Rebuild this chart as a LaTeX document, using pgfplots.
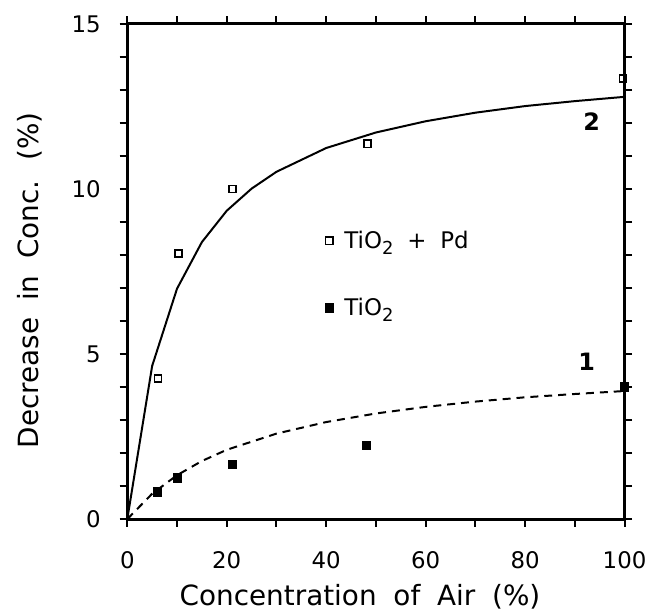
\documentclass[border=0pt]{standalone}
\usepackage{fontspec}
\setmainfont{DejaVu Sans}
\usepackage{pgfplots}
\pgfplotsset{compat=1.18}

\newcommand{\sub}[1]{\raisebox{-3.2pt}{\fontsize{9}{9}\selectfont #1}}

\begin{document}
\begin{tikzpicture}
\begin{axis}[
    width=250pt, height=249pt, scale only axis,
    xmin=0, xmax=100, ymin=0, ymax=15,
    xtick={0,20,...,100}, minor xtick={10,30,...,90},
    ytick={0,5,10,15}, minor ytick={1,2,3,4,6,7,8,9,11,12,13,14},
    tick align=outside,
    major tick length=3.8pt, minor tick length=3.8pt,
    every tick/.style={black, line width=1pt},
    every minor tick/.style={black, line width=1pt},
    axis line style={line width=1.4pt},
    tick label style={font=\fontsize{11.5}{13}\selectfont},
    yticklabel style={xshift=-6pt},
    xticklabel style={yshift=-9pt},
    /pgf/number format/assume math mode=true,
    xlabel={Concentration\hspace{4pt} of\hspace{4pt} Air\hspace{4pt} (\%)},
    ylabel={Decrease\hspace{4pt} in\hspace{4pt} Conc.\hspace{4pt} (\%)},
    label style={font=\fontsize{14}{16}\selectfont},
    xlabel style={at={(axis description cs:0.468,-0.157)}, anchor=center},
    ylabel style={at={(axis description cs:-0.196,0.482)}, anchor=center},
    legend image code/.code={\draw[#1, only marks] plot coordinates {(0pt,0pt)};},
    legend style={at={(axis cs:39.7,8.87)}, anchor=north west, draw=none, fill=none,
        font=\fontsize{11.5}{13}\selectfont, row sep=19.5pt, inner sep=0pt},
    legend cell align=left,
    clip=false,
]
% TiO2 + Pd (open squares)
\addplot[only marks, mark=square, mark size=1.8pt, mark options={line width=0.8pt}] coordinates {
    (6.2,4.26) (10.3,8.04) (21.2,10.0) (48.3,11.37) (99.7,13.35)
};
\addlegendentry{\hspace{3.5pt}TiO\sub{2}\hspace{7pt}+\hspace{7pt}Pd}
% TiO2 (filled squares)
\addplot[only marks, mark=square*, mark size=2.1pt] coordinates {
    (6.1,0.82) (10.1,1.25) (21.2,1.65) (48.1,2.23) (100,4.0)
};
\addlegendentry{\hspace{3.5pt}TiO\sub{2}}
% curve 2
\addplot[black, line width=1pt, forget plot] coordinates {
    (0,0) (5,4.64) (10,6.98) (15,8.39) (20,9.34) (25,10.01) (30,10.52)
    (40,11.24) (50,11.71) (60,12.05) (70,12.31) (80,12.51) (90,12.66) (100,12.79)
};
% curve 1
\addplot[black, line width=1pt, dash pattern=on 4pt off 3pt, forget plot] coordinates {
    (0,0) (5,0.77) (10,1.33) (15,1.76) (20,2.10) (30,2.59) (40,2.94)
    (50,3.20) (60,3.40) (70,3.56) (80,3.69) (90,3.79) (100,3.88)
};
\node[font=\fontsize{12}{14}\selectfont\bfseries] at (axis cs:93.4,12.05) {2};
\node[font=\fontsize{12}{14}\selectfont\bfseries] at (axis cs:92.4,4.75) {1};
% margins around the axis, as in the original figure
\path (rel axis cs:0,0) ++(-64pt,-47pt);
\path (rel axis cs:1,1) ++(12.5pt,12pt);
\end{axis}
\end{tikzpicture}
\end{document}
